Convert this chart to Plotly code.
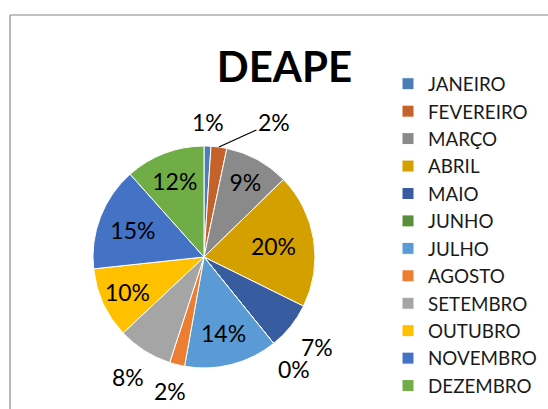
import math
import plotly.graph_objects as go

months = ["JANEIRO", "FEVEREIRO", "MARÇO", "ABRIL", "MAIO", "JUNHO",
          "JULHO", "AGOSTO", "SETEMBRO", "OUTUBRO", "NOVEMBRO", "DEZEMBRO"]
values = [1.0, 2.3, 9.4, 19.6, 6.9, 0.0, 13.6, 2.2, 8.0, 10.3, 15.1, 11.6]
colors = ["#4B7EB9", "#C5622C", "#8A8A8A", "#D4A000", "#375C9F", "#5B8E3B",
          "#5B9BD5", "#ED7D31", "#A5A5A5", "#FFC000", "#4472C4", "#70AD47"]
label_pos = ["outside", "leader", "inside", "inside", "outside", "outside",
             "inside", "outside", "outside", "inside", "inside", "inside"]

W, H = 548, 409
cx, cy, r = 204, 257, 111
LABEL_FONT = dict(family="Lato", size=23, color="black")

fig = go.Figure(go.Pie(
    labels=months,
    values=values,
    sort=False,
    direction="clockwise",
    rotation=0,
    marker=dict(colors=colors, line=dict(color="white", width=1)),
    texttemplate="%{percent:.0%}",
    textposition=["inside" if p == "inside" else "none" for p in label_pos],
    textfont=LABEL_FONT,
    insidetextorientation="horizontal",
    domain=dict(x=[(cx - r) / W, (cx + r) / W],
                y=[(H - cy - r) / H, (H - cy + r) / H]),
    showlegend=True,
))

# outside data labels, placed around the pie from each slice's mid-angle
total = sum(values)
cum = 0.0
annotations = []
gap, hw, hh = 11, 19, 12
for v, p in zip(values, label_pos):
    start = cum / total * 2 * math.pi
    cum += v
    end = cum / total * 2 * math.pi
    mid = (start + end) / 2
    s, c = math.sin(mid), math.cos(mid)
    txt = f"{round(v / total * 100)}%"
    if p == "outside":
        R = r + gap + abs(s) * hw + abs(c) * hh
        px, py = cx + R * s, cy - R * c
        annotations.append(dict(x=px / W, y=1 - py / H, xref="paper", yref="paper",
                                text=txt, showarrow=False, font=LABEL_FONT,
                                xanchor="center", yanchor="middle"))
    elif p == "leader":
        px, py = cx + r * s, cy - r * c
        annotations.append(dict(x=px / W, y=1 - py / H, xref="paper", yref="paper",
                                text=txt, showarrow=True, arrowhead=0,
                                arrowwidth=1.2, arrowcolor="black",
                                ax=55, ay=-25, font=LABEL_FONT, standoff=0))

fig.update_layout(
    width=W, height=H,
    margin=dict(l=0, r=0, t=0, b=0),
    paper_bgcolor="white",
    plot_bgcolor="white",
    font=dict(family="Lato", color="black"),
    title=dict(text="<b>DEAPE</b>", x=284.5 / W, xanchor="center",
               y=1 - 67 / H, yanchor="middle",
               font=dict(family="Lato", size=42, color="black")),
    legend=dict(x=388 / W, xanchor="left", y=1 - 65 / H, yanchor="top",
                font=dict(family="Lato", size=18.8, color="#1a1a1a"),
                bgcolor="rgba(0,0,0,0)", traceorder="normal"),
    annotations=annotations,
    shapes=[
        dict(type="line", xref="paper", yref="paper",
             x0=10 / W, x1=1, y0=1 - 15 / H, y1=1 - 15 / H,
             line=dict(color="#ADADAD", width=1.5)),
        dict(type="line", xref="paper", yref="paper",
             x0=10 / W, x1=10 / W, y0=0, y1=1 - 15 / H,
             line=dict(color="#A0A0A0", width=1.5)),
    ],
)

fig.write_html("out.html", config={"displayModeBar": False},
               post_script="document.body.style.margin='0px';")
